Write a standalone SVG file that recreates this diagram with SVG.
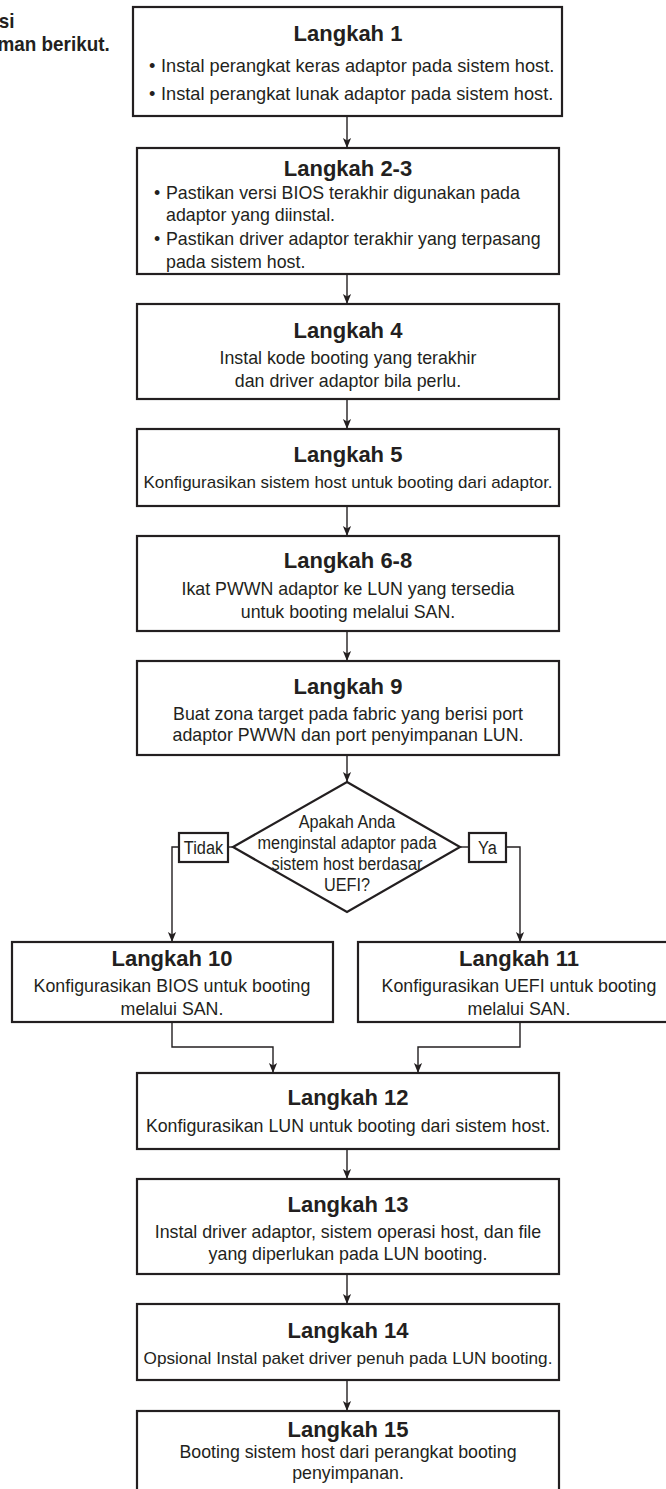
<svg xmlns="http://www.w3.org/2000/svg" width="666" height="1489" viewBox="0 0 666 1489">
<defs>
<marker id="ah" markerUnits="userSpaceOnUse" markerWidth="10" markerHeight="10" refX="11" refY="4.5" orient="auto" viewBox="0 0 11 9">
<path d="M0,0 L11,4.5 L0,9 L2.8,4.5 Z" fill="#231f20"/>
</marker>
<style>
.box{fill:#fff;stroke:#231f20;stroke-width:2.2}
.t{font-family:"Liberation Sans",Arial,sans-serif;font-weight:bold;font-size:22px;fill:#231f20;text-anchor:middle}
.b{font-family:"Liberation Sans",Arial,sans-serif;font-size:17.8px;fill:#231f20;text-anchor:middle}
.l{font-family:"Liberation Sans",Arial,sans-serif;font-size:17.8px;fill:#231f20}
.d{font-family:"Liberation Sans",Arial,sans-serif;font-size:17.5px;fill:#231f20;text-anchor:middle}
.y{font-family:"Liberation Sans",Arial,sans-serif;font-size:19px;fill:#231f20;text-anchor:middle}
.c{fill:none;stroke:#231f20;stroke-width:1.4}
.cap{font-family:"Liberation Sans",Arial,sans-serif;font-weight:bold;font-size:21px;fill:#231f20;text-anchor:end}
</style>
</defs>
<rect width="666" height="1489" fill="#fff"/>

<g id="caption" transform="scale(0.9,1)">
<text class="cap" x="16" y="28">si</text>
<text class="cap" x="122" y="51">man berikut.</text>
</g>

<g id="connectors">
<line class="c" x1="347" y1="116" x2="347" y2="148" marker-end="url(#ah)"/>
<line class="c" x1="347" y1="274" x2="347" y2="304" marker-end="url(#ah)"/>
<line class="c" x1="347" y1="399" x2="347" y2="429" marker-end="url(#ah)"/>
<line class="c" x1="347" y1="506" x2="347" y2="536" marker-end="url(#ah)"/>
<line class="c" x1="347" y1="631" x2="347" y2="661" marker-end="url(#ah)"/>
<line class="c" x1="347" y1="755" x2="347" y2="782" marker-end="url(#ah)"/>
<line class="c" x1="233" y1="847" x2="228" y2="847"/>
<polyline class="c" points="179,847 172,847 172,942" marker-end="url(#ah)"/>
<line class="c" x1="460" y1="847" x2="469" y2="847"/>
<polyline class="c" points="506,847 520,847 520,942" marker-end="url(#ah)"/>
<polyline class="c" points="172,1022 172,1047 273,1047 273,1073" marker-end="url(#ah)"/>
<polyline class="c" points="520,1022 520,1047 418,1047 418,1073" marker-end="url(#ah)"/>
<line class="c" x1="347" y1="1149" x2="347" y2="1179" marker-end="url(#ah)"/>
<line class="c" x1="347" y1="1274" x2="347" y2="1304" marker-end="url(#ah)"/>
<line class="c" x1="347" y1="1380" x2="347" y2="1411" marker-end="url(#ah)"/>
</g>

<g id="step1">
<rect class="box" x="133" y="7" width="429" height="109"/>
<text class="t" x="348" y="41">Langkah 1</text>
<text class="l" style="font-size:18.2px" x="149" y="72">•</text>
<text class="l" style="font-size:18.2px" x="161" y="72">Instal perangkat keras adaptor pada sistem host.</text>
<text class="l" style="font-size:18.2px" x="149" y="100">•</text>
<text class="l" style="font-size:18.2px" x="161" y="100">Instal perangkat lunak adaptor pada sistem host.</text>
</g>

<g id="step2-3">
<rect class="box" x="137" y="148" width="422" height="126"/>
<text class="t" x="348" y="176">Langkah 2-3</text>
<text class="l" x="154" y="199">•</text>
<text class="l" x="166" y="199">Pastikan versi BIOS terakhir digunakan pada</text>
<text class="l" x="166" y="221">adaptor yang diinstal.</text>
<text class="l" x="154" y="245">•</text>
<text class="l" x="166" y="245">Pastikan driver adaptor terakhir yang terpasang</text>
<text class="l" x="166" y="268">pada sistem host.</text>
</g>

<g id="step4">
<rect class="box" x="137" y="304" width="422" height="95"/>
<text class="t" x="348" y="338">Langkah 4</text>
<text class="b" x="348" y="364">Instal kode booting yang terakhir</text>
<text class="b" x="348" y="387">dan driver adaptor bila perlu.</text>
</g>

<g id="step5">
<rect class="box" x="137" y="429" width="422" height="77"/>
<text class="t" x="348" y="462">Langkah 5</text>
<text class="b" style="font-size:17px" x="348" y="488">Konfigurasikan sistem host untuk booting dari adaptor.</text>
</g>

<g id="step6-8">
<rect class="box" x="137" y="536" width="422" height="95"/>
<text class="t" x="348" y="568">Langkah 6-8</text>
<text class="b" x="348" y="595">Ikat PWWN adaptor ke LUN yang tersedia</text>
<text class="b" x="348" y="618">untuk booting melalui SAN.</text>
</g>

<g id="step9">
<rect class="box" x="137" y="661" width="422" height="94"/>
<text class="t" x="348" y="694">Langkah 9</text>
<text class="b" x="348" y="720">Buat zona target pada fabric yang berisi port</text>
<text class="b" x="348" y="741">adaptor PWWN dan port penyimpanan LUN.</text>
</g>

<g id="decision">
<polygon points="347,782 460,847 347,912 233,847" fill="#fff" stroke="#231f20" stroke-width="2.2"/>
<g transform="translate(347,0) scale(0.93,1)">
<text class="d" x="0" y="828">Apakah Anda</text>
<text class="d" x="0" y="849">menginstal adaptor pada</text>
<text class="d" x="0" y="870">sistem host berdasar</text>
<text class="d" x="0" y="891">UEFI?</text>
</g>
</g>

<g id="label-tidak">
<rect class="box" x="179" y="833" width="49" height="29"/>
<text class="y" transform="translate(203.5,854) scale(0.86,1)" x="0" y="0">Tidak</text>
</g>

<g id="label-ya">
<rect class="box" x="469" y="833" width="37" height="29"/>
<text class="y" transform="translate(487.5,854) scale(0.86,1)" x="0" y="0">Ya</text>
</g>

<g id="step10">
<rect class="box" x="12" y="942" width="321" height="80"/>
<text class="t" x="172" y="966">Langkah 10</text>
<text class="b" x="172" y="992">Konfigurasikan BIOS untuk booting</text>
<text class="b" x="172" y="1015">melalui SAN.</text>
</g>

<g id="step11">
<rect class="box" x="358" y="942" width="322" height="80"/>
<text class="t" x="519" y="966">Langkah 11</text>
<text class="b" x="519" y="992">Konfigurasikan UEFI untuk booting</text>
<text class="b" x="519" y="1015">melalui SAN.</text>
</g>

<g id="step12">
<rect class="box" x="137" y="1073" width="422" height="76"/>
<text class="t" x="348" y="1105">Langkah 12</text>
<text class="b" x="348" y="1132">Konfigurasikan LUN untuk booting dari sistem host.</text>
</g>

<g id="step13">
<rect class="box" x="137" y="1179" width="422" height="95"/>
<text class="t" x="348" y="1212">Langkah 13</text>
<text class="b" x="348" y="1238">Instal driver adaptor, sistem operasi host, dan file</text>
<text class="b" x="348" y="1260">yang diperlukan pada LUN booting.</text>
</g>

<g id="step14">
<rect class="box" x="137" y="1304" width="422" height="76"/>
<text class="t" x="348" y="1338">Langkah 14</text>
<text class="b" style="font-size:17.2px" x="348" y="1364">Opsional Instal paket driver penuh pada LUN booting.</text>
</g>

<g id="step15">
<rect class="box" x="137" y="1411" width="422" height="90"/>
<text class="t" x="348" y="1437">Langkah 15</text>
<text class="b" x="348" y="1458">Booting sistem host dari perangkat booting</text>
<text class="b" x="348" y="1479">penyimpanan.</text>
</g>
</svg>
